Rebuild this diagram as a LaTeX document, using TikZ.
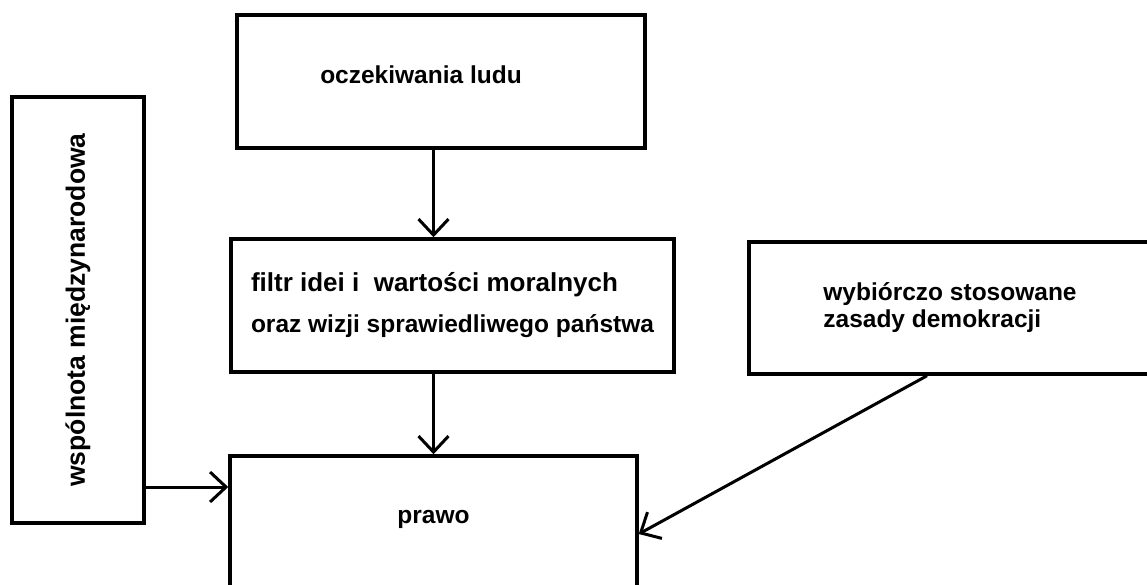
\documentclass[tikz,border=0pt]{standalone}
\usepackage{fontspec}
\setmainfont{Liberation Sans}
\usepackage{tikz}
\usetikzlibrary{arrows.meta, positioning}

\begin{document}
\begin{tikzpicture}[x=1pt, y=-1pt, >={Straight Barb[length=16pt, width=30pt]},
  font=\bfseries\fontsize{24.5}{27}\selectfont,
  box/.style={draw, line width=3.5pt, inner sep=0pt},
  arr/.style={->, line width=3pt}]
  \useasboundingbox[fill=white] (0,0) rectangle (1147,585);
  % boxes
  \node[box, minimum width=408pt, minimum height=133pt,
        label={[xshift=-20pt, yshift=7pt]center:oczekiwania ludu}] (lud) at (441,81.5) {};
  \node[box, minimum width=443pt, minimum height=133pt, align=left,
        font=\bfseries\fontsize{24.5}{41}\selectfont] (filtr) at (452.5,305.5)
        {{\fontsize{26}{41}\selectfont filtr idei i\ \ wartości moralnych}\\oraz wizji sprawiedliwego państwa};
  \node[box, minimum width=132pt, minimum height=426pt,
        label={[rotate=90, font=\bfseries\fontsize{26.5}{30}\selectfont]center:wspólnota międzynarodowa}] (wsp) at (78,310) {};
  \node[box, minimum width=402pt, minimum height=132pt, align=left] (demo) at (950,308)
        {wybiórczo stosowane\\zasady demokracji};
  \node[box, minimum width=407pt, minimum height=156pt,
        label={[yshift=15pt]center:prawo}] (prawo) at (433.5,534) {};
  % arrows
  \coordinate (wsp-out) at (wsp.east |- 0,487);
  \draw[arr] (lud.south -| prawo) -- (filtr.north -| prawo);
  \draw[arr] (filtr.south -| prawo) -- (prawo.north);
  \draw[arr] (wsp-out) -- (wsp-out -| prawo.west);
  \draw[arr] ([xshift=-23pt]demo.south) -- (prawo.east);
\end{tikzpicture}
\end{document}
